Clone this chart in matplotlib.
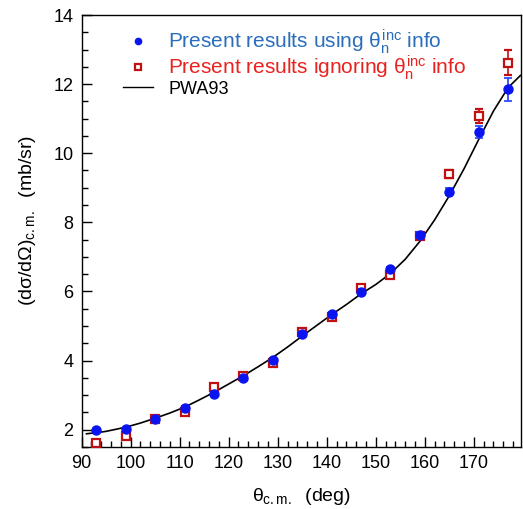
import numpy as np
import matplotlib
matplotlib.use('Agg')
import matplotlib.pyplot as plt
import matplotlib.lines as ln

plt.rcParams['font.family'] = ['Liberation Sans', 'DejaVu Sans']
plt.rcParams['mathtext.fontset'] = 'custom'
plt.rcParams['mathtext.rm'] = 'Liberation Sans'
plt.rcParams['mathtext.it'] = 'Liberation Sans'
plt.rcParams['mathtext.bf'] = 'Liberation Sans:bold'

# measured angles (deg)
theta = [93, 99, 105, 111, 117, 123, 129, 135, 141, 147, 153, 159, 165, 171, 177]

# present results using theta_n^inc info
xs_using = [1.98, 2.02, 2.31, 2.62, 3.03, 3.48, 4.02, 4.77, 5.35, 5.99,
            6.65, 7.64, 8.89, 10.61, 11.85]
err_using = [0.04, 0.04, 0.04, 0.05, 0.05, 0.05, 0.05, 0.06, 0.06, 0.07,
             0.07, 0.08, 0.11, 0.18, 0.33]

# present results ignoring theta_n^inc info
xs_ignore = [1.61, 1.83, 2.31, 2.52, 3.22, 3.56, 3.92, 4.83, 5.26, 6.09,
             6.48, 7.59, 9.39, 11.07, 12.62]
err_ignore = [0.04, 0.04, 0.04, 0.05, 0.05, 0.05, 0.05, 0.06, 0.06, 0.07,
              0.07, 0.08, 0.12, 0.2, 0.36]

# PWA93 curve
pwa_theta = [91, 93, 95, 99, 102, 105, 108, 111, 114, 117, 120, 123, 126, 129,
             132, 135, 138, 141, 144, 147, 150, 153, 156, 159, 162, 165,
             168, 171, 174, 177, 179.5]
pwa_xs = [1.88, 1.91, 1.95, 2.07, 2.19, 2.33, 2.48, 2.65, 2.86, 3.08, 3.32,
          3.56, 3.82, 4.09, 4.39, 4.71, 5.02, 5.33, 5.62, 5.93, 6.20, 6.52,
          6.93, 7.45, 8.07, 8.77, 9.55, 10.40, 11.22, 11.90, 12.25]

fig = plt.figure(figsize=(5.23, 5.09), dpi=100)
ax = fig.add_axes([0.156, 0.122, 0.840, 0.8485])

ax.plot(pwa_theta, pwa_xs, color='black', lw=1.2, zorder=2)
ax.errorbar(theta, xs_ignore, yerr=err_ignore, fmt='s', ms=5.5, mfc='white',
            mec='#c01010', mew=1.6, ecolor='#c01010', elinewidth=1.2,
            capsize=3, capthick=1.2, zorder=3)
ax.errorbar(theta, xs_using, yerr=err_using, fmt='o', ms=6.5, color='#0a14f0',
            ecolor='#2040ff', elinewidth=1.2, capsize=3, capthick=1.2,
            zorder=4)

ax.set_xlim(90, 179.6)
ax.set_ylim(1.5, 14)
ax.set_xticks(np.arange(90, 171, 10))
ax.set_xticks(np.arange(92, 180, 2), minor=True)
ax.set_yticks(np.arange(2, 15, 2))
ax.set_yticks(np.arange(1.5, 14.01, 0.5), minor=True)
ax.tick_params(which='both', direction='in', top=False, right=False,
               labelsize=13, pad=6)
ax.tick_params(which='major', length=7, width=1)
ax.tick_params(which='minor', length=4, width=1)
for s in ax.spines.values():
    s.set_linewidth(1)

ax.set_xlabel(r'$\theta_{\rm c.m.}$  (deg)', fontsize=14, labelpad=10)
ax.set_ylabel(r'$({\rm d}\sigma/{\rm d}\Omega)_{\rm c.m.}$  (mb/sr)',
              fontsize=14)
ax.yaxis.set_label_coords(-0.10, 0.525)

# legend with plain markers (no error bars)
handles = [
    ln.Line2D([], [], ls='none', marker='o', ms=4.5, color='#0a14f0'),
    ln.Line2D([], [], ls='none', marker='s', ms=4.5, mfc='white',
              mec='#c01010', mew=1.6),
    ln.Line2D([], [], color='black', lw=1.0),
]
labels = [r'Present results using $\theta_{\rm n}^{\rm inc}$ info',
          r'Present results ignoring $\theta_{\rm n}^{\rm inc}$ info',
          'PWA93']
leg = ax.legend(handles, labels, loc='upper left',
                bbox_to_anchor=(0.094, 0.972), frameon=False,
                fontsize=15, handlelength=1.45, handletextpad=0.72,
                labelspacing=-0.12, borderaxespad=0, borderpad=0)
texts = leg.get_texts()
texts[0].set_color('#2a6ebb')
texts[1].set_color('#e8231f')
texts[2].set_color('black')
texts[2].set_fontsize(13)

fig.savefig('out.png', dpi=100)
